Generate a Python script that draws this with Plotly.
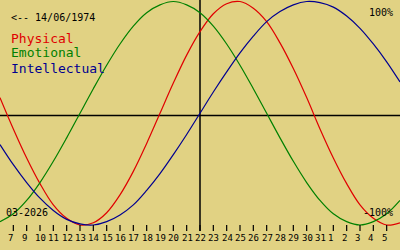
import plotly.graph_objects as go

# Day offsets relative to the centre date (22-03-2026)
days = list(range(-15, 16))

# Values (-1 .. 1)
physical = [0.14, -0.14, -0.40, -0.63, -0.82, -0.94, -1.00, -0.98, -0.89, -0.73,
            -0.52, -0.27, 0.00, 0.27, 0.52, 0.73, 0.89, 0.98, 1.00, 0.94,
            0.82, 0.63, 0.40, 0.14, -0.14, -0.40, -0.63, -0.82, -0.94, -1.00, -0.98]
emotional = [-0.97, -0.90, -0.78, -0.62, -0.43, -0.22, 0.00, 0.22, 0.43, 0.62,
             0.78, 0.90, 0.97, 1.00, 0.97, 0.90, 0.78, 0.62, 0.43, 0.22,
             0.00, -0.22, -0.43, -0.62, -0.78, -0.90, -0.97, -1.00, -0.97, -0.90, -0.78]
intellectual = [-0.28, -0.46, -0.62, -0.76, -0.87, -0.95, -0.99, -1.00, -0.97, -0.91,
                -0.82, -0.69, -0.54, -0.37, -0.19, 0.00, 0.19, 0.37, 0.54, 0.69,
                0.82, 0.91, 0.97, 1.00, 0.99, 0.95, 0.87, 0.76, 0.62, 0.46, 0.28]

tick_days = list(range(-14, 15))
tick_labels = ["7", "9", "10", "11", "12", "13", "14", "15", "16", "17", "18", "19",
               "20", "21", "22", "23", "24", "25", "26", "27", "28", "29", "30", "31",
               "1", "2", "3", "4", "5"]

series_names = ["Physical", "Emotional", "Intellectual"]
series_colors = ["#e00000", "#008000", "#000090"]
birth_label = "<-- 14/06/1974"
month_label = "03-2026"

W, H = 400, 250
BG = "#e1d283"
FONT = "DejaVu Sans Mono"

def py(p):  # pixel row -> paper y
    return 1 - p / H

fig = go.Figure()
for name, vals, col in zip(series_names, [physical, emotional, intellectual], series_colors):
    fig.add_trace(go.Scatter(x=days, y=vals, mode="lines", name=name,
                             line=dict(color=col, width=1.2, shape="spline", smoothing=1.0),
                             hoverinfo="skip"))

shapes = []
# horizontal centre line
shapes.append(dict(type="line", xref="paper", yref="paper", x0=0, x1=1, y0=py(115.5), y1=py(115.5),
                   line=dict(color="black", width=1.5), layer="below"))
# vertical centre line (today)
shapes.append(dict(type="line", xref="x", yref="paper", x0=0, x1=0, y0=py(0), y1=py(231),
                   line=dict(color="black", width=1.5), layer="below"))
for d in tick_days:
    shapes.append(dict(type="line", xref="x", yref="paper", x0=d, x1=d, y0=py(225), y1=py(231),
                       line=dict(color="black", width=1.2)))

ann = []
for d, lab in zip(tick_days, tick_labels):
    ann.append(dict(x=d, y=py(238), xref="x", yref="paper", text=lab, showarrow=False,
                    xanchor="left", yanchor="middle", xshift=-7,
                    font=dict(family=FONT, size=9, color="black")))

ann.append(dict(x=9 / W, y=py(17), xref="paper", yref="paper", text=birth_label, showarrow=False,
                xanchor="left", yanchor="middle", font=dict(family=FONT, size=10, color="black")))
for i, (name, col) in enumerate(zip(series_names, series_colors)):
    ann.append(dict(x=9 / W, y=py(38 + 15 * i), xref="paper", yref="paper", text=name, showarrow=False,
                    xanchor="left", yanchor="middle", font=dict(family=FONT, size=13, color=col)))
ann.append(dict(x=395 / W, y=py(12), xref="paper", yref="paper", text="100%", showarrow=False,
                xanchor="right", yanchor="middle", font=dict(family=FONT, size=10, color="black")))
ann.append(dict(x=395 / W, y=py(212), xref="paper", yref="paper", text="-100%", showarrow=False,
                xanchor="right", yanchor="middle", font=dict(family=FONT, size=10, color="black")))
ann.append(dict(x=4 / W, y=py(212), xref="paper", yref="paper", text=month_label, showarrow=False,
                xanchor="left", yanchor="middle", font=dict(family=FONT, size=10, color="black")))

ymax = 1 + 1.5 / 111.75
ymin = ymax - H / 111.75

fig.update_layout(
    width=W, height=H, margin=dict(l=0, r=0, t=0, b=0),
    paper_bgcolor=BG, plot_bgcolor=BG, showlegend=False,
    xaxis=dict(range=[-15, 15], visible=False, fixedrange=True),
    yaxis=dict(range=[ymin, ymax], visible=False, fixedrange=True),
    shapes=shapes, annotations=ann,
)
fig.write_html("out.html", config={"displayModeBar": False})
